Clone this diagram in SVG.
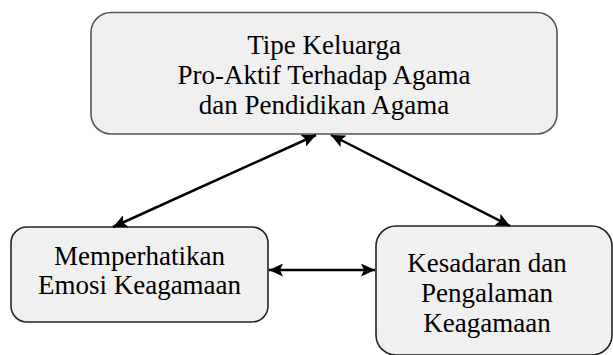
<svg xmlns="http://www.w3.org/2000/svg" width="613" height="355" viewBox="0 0 613 355">
<style>
.box{fill:#f0f0f0;stroke-width:1.6}
.top{stroke:#555}
.low{stroke:#222}
.t{font-family:"Liberation Serif","Times New Roman",serif;font-size:27px;fill:#000;text-anchor:middle}
.c{stroke:#000;stroke-width:2.5;fill:none;marker-start:url(#ah);marker-end:url(#ah)}
</style>
<defs>
<marker id="ah" markerUnits="userSpaceOnUse" markerWidth="15" markerHeight="13" refX="14" refY="6.5" orient="auto-start-reverse">
<path d="M0,0 L14,6.5 L0,13 L3,6.5 Z" fill="#000"/>
</marker>
</defs>
<rect width="613" height="355" fill="#fff"/>
<g id="node-top">
<rect class="box top" x="91" y="12.5" width="466" height="121.5" rx="20"/>
<text class="t" x="324" y="54">Tipe Keluarga</text>
<text class="t" x="324" y="84">Pro-Aktif Terhadap Agama</text>
<text class="t" x="324" y="114">dan Pendidikan Agama</text>
</g>
<g id="node-left">
<rect class="box low" x="11" y="227" width="257" height="95" rx="16"/>
<text class="t" x="139.5" y="265">Memperhatikan</text>
<text class="t" x="139.5" y="294">Emosi Keagamaan</text>
</g>
<g id="node-right">
<rect class="box low" x="376" y="226" width="236" height="129" rx="20"/>
<text class="t" x="487" y="272">Kesadaran dan</text>
<text class="t" x="487" y="302">Pengalaman</text>
<text class="t" x="487" y="332">Keagamaan</text>
</g>
<g id="connectors">
<line class="c" x1="316" y1="135" x2="113" y2="227"/>
<line class="c" x1="331" y1="135" x2="510" y2="226"/>
<line class="c" x1="269" y1="270" x2="375" y2="270"/>
</g>
</svg>
